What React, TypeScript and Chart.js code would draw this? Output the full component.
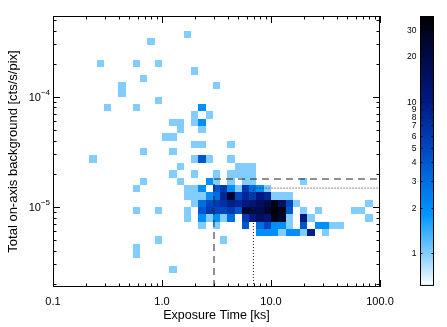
import React, { useEffect, useRef } from 'react';
import { Chart, registerables } from 'chart.js';
Chart.register(...registerables);

const FONT = '"Liberation Sans", Arial, Helvetica, sans-serif';

const X_MIN = 0.1;
const X_MAX = 100;
const Y_MIN = 1.87e-6;
const Y_MAX = 5.42e-4;
const BINS_PER_DECADE = 15;
const X_BIN_ORIGIN = -1; // log10 of first x bin edge (0.1 ks)
const Y_BIN_ORIGIN = -5; // log10 of y bin edge index 0 (1e-5)

const X_TICKS = [0.1, 1, 10, 100];
const X_TICK_LABELS = ['0.1', '1.0', '10.0', '100.0'];
const Y_TICKS = [1e-5, 1e-4];
const Y_TICK_EXP = ['\u22125', '\u22124'];

const CB_MIN = 0.61;
const CB_MAX = 37;
const CB_TICKS = [1, 2, 3, 4, 5, 6, 7, 8, 9, 10, 20, 30];

// Threshold lines
const DASH_X = 3.0;
const DASH_Y = 1.79e-5;
const DOT_X = 6.9;
const DOT_Y = 1.48e-5;

// Histogram cells: x bin index, y bin index, count (one row per y bin)
const rowY = [23, 22, 19, 18, 17, 16, 15, 14, 13, 12, 11, 10, 9, 8, 7, 6, 5, 4, 3, 2, 1, 0, -1, -2, -3, -4, -5, -6, -7, -9];
const rowCells: number[][][] = [
  [[18, 1]],
  [[13, 1]],
  [[6, 1], [11, 1], [14, 1]],
  [[19, 1]],
  [[12, 1]],
  [[9, 1], [22, 1]],
  [[9, 1]],
  [[14, 1]],
  [[7, 1], [11, 1], [20, 2]],
  [[19, 1], [21, 1]],
  [[16, 1], [17, 1], [19, 1], [20, 2]],
  [[17, 1], [20, 1]],
  [[15, 1], [16, 1]],
  [[19, 1], [20, 1], [24, 1]],
  [[12, 1], [16, 1]],
  [[5, 1], [19, 1], [20, 4], [21, 1], [24, 1]],
  [[17, 1], [25, 1], [26, 1], [27, 1]],
  [[16, 1], [19, 1], [22, 1], [24, 1], [25, 1], [26, 1], [27, 1]],
  [[12, 1], [17, 1], [21, 2], [22, 1], [24, 1], [26, 1], [27, 1], [34, 1]],
  [[11, 1], [18, 1], [19, 1], [20, 2], [22, 4], [23, 6], [24, 2], [25, 1], [26, 6], [27, 3], [28, 2], [29, 1]],
  [[18, 1], [19, 1], [20, 1], [21, 2], [22, 3], [23, 8], [24, 25], [25, 5], [26, 8], [27, 6], [28, 10], [29, 8], [30, 1], [31, 1], [32, 1]],
  [[19, 1], [20, 3], [21, 5], [22, 6], [23, 7], [24, 9], [25, 8], [26, 10], [27, 12], [28, 15], [29, 20], [30, 30], [31, 15], [32, 5], [33, 1], [43, 1]],
  [[11, 1], [14, 1], [18, 1], [20, 4], [21, 6], [22, 5], [23, 5], [24, 6], [25, 4], [26, 25], [27, 20], [28, 18], [29, 25], [30, 35], [31, 30], [32, 4], [34, 1], [36, 1], [41, 1], [42, 1]],
  [[18, 1], [20, 2], [21, 1], [22, 2], [23, 1], [24, 3], [26, 6], [27, 10], [28, 15], [29, 12], [30, 30], [31, 25], [32, 1], [34, 10], [35, 1], [43, 1]],
  [[20, 1], [22, 1], [26, 4], [28, 3], [29, 5], [30, 2], [31, 2], [32, 1], [34, 4], [36, 2], [37, 2], [38, 1], [39, 1]],
  [[28, 2], [29, 2], [30, 2], [31, 1], [32, 2], [33, 2], [34, 1], [35, 9], [37, 1]],
  [[14, 1], [23, 1]],
  [[11, 1]],
  [[11, 1]],
  [[16, 1]],
];

// colour map stops: count -> rgb
const CMAP_N = [0.61, 1.0, 1.8, 3, 5, 10, 20, 37];
const CMAP_C = [
  [255, 255, 255],
  [130, 205, 255],
  [0, 150, 255],
  [0, 110, 225],
  [0, 70, 190],
  [0, 25, 130],
  [0, 10, 70],
  [0, 0, 0],
];

function cmap(v: number): string {
  const lv = Math.log(Math.max(CMAP_N[0], Math.min(CMAP_N[CMAP_N.length - 1], v)));
  for (let i = 0; i < CMAP_N.length - 1; i++) {
    const a = Math.log(CMAP_N[i]);
    const b = Math.log(CMAP_N[i + 1]);
    if (lv <= b) {
      const t = (lv - a) / (b - a);
      const c = CMAP_C[i].map((c0, k) => Math.round(c0 + (CMAP_C[i + 1][k] - c0) * t));
      return `rgb(${c[0]},${c[1]},${c[2]})`;
    }
  }
  const c = CMAP_C[CMAP_C.length - 1];
  return `rgb(${c[0]},${c[1]},${c[2]})`;
}

const binEdge = (origin: number, i: number) => Math.pow(10, origin + i / BINS_PER_DECADE);

const heatmapPlugin = {
  id: 'heatmap',
  beforeDatasetsDraw(chart: any) {
    const { ctx, chartArea } = chart;
    const xs = chart.scales.x;
    const ys = chart.scales.y;
    const pts = chart.data.datasets[0].data as any[];
    ctx.save();
    ctx.beginPath();
    ctx.rect(chartArea.left, chartArea.top, chartArea.right - chartArea.left, chartArea.bottom - chartArea.top);
    ctx.clip();
    for (const p of pts) {
      const x0 = Math.round(xs.getPixelForValue(binEdge(X_BIN_ORIGIN, p.ix)));
      const x1 = Math.round(xs.getPixelForValue(binEdge(X_BIN_ORIGIN, p.ix + 1)));
      const y0 = Math.round(ys.getPixelForValue(binEdge(Y_BIN_ORIGIN, p.iy + 1)));
      const y1 = Math.round(ys.getPixelForValue(binEdge(Y_BIN_ORIGIN, p.iy)));
      ctx.fillStyle = cmap(p.n);
      ctx.fillRect(x0, y0, x1 - x0, y1 - y0);
    }
    ctx.restore();
  },
};

const framePlugin = {
  id: 'frame',
  afterDraw(chart: any) {
    const { ctx, chartArea } = chart;
    const { left, right, top, bottom } = chartArea;
    const xs = chart.scales.x;
    const ys = chart.scales.y;
    const cb = chart.scales.cb;
    ctx.save();
    ctx.strokeStyle = '#000';
    ctx.lineWidth = 1;
    ctx.strokeRect(left + 0.5, top + 0.5, right - left - 1, bottom - top - 1);
    const MAJ = 7;
    const MIN = 3.5;
    ctx.beginPath();
    for (let e = -1; e <= 2; e++) {
      for (let k = 1; k <= 9; k++) {
        const v = k * Math.pow(10, e);
        if (v < X_MIN * 0.999 || v > X_MAX * 1.001) continue;
        const px = Math.round(xs.getPixelForValue(v)) + 0.5;
        const L = k === 1 ? MAJ : MIN;
        ctx.moveTo(px, bottom);
        ctx.lineTo(px, bottom - L);
        ctx.moveTo(px, top);
        ctx.lineTo(px, top + L);
      }
    }
    for (let e = -6; e <= -3; e++) {
      for (let k = 1; k <= 9; k++) {
        const v = k * Math.pow(10, e);
        if (v < Y_MIN || v > Y_MAX) continue;
        const py = Math.round(ys.getPixelForValue(v)) + 0.5;
        const L = k === 1 ? MAJ : MIN;
        ctx.moveTo(left, py);
        ctx.lineTo(left + L, py);
        ctx.moveTo(right, py);
        ctx.lineTo(right - L, py);
      }
    }
    ctx.stroke();

    // y tick labels with superscript exponent
    ctx.fillStyle = '#000';
    ctx.textBaseline = 'alphabetic';
    Y_TICKS.forEach((v, i) => {
      const py = ys.getPixelForValue(v);
      ctx.font = `8px ${FONT}`;
      const ew = ctx.measureText(Y_TICK_EXP[i]).width;
      ctx.textAlign = 'right';
      ctx.fillText(Y_TICK_EXP[i], 50, py - 1.5);
      ctx.font = `11px ${FONT}`;
      ctx.fillText('10', 50 - ew, py + 4);
    });

    // colour bar
    const cbL = 420;
    const cbR = 434;
    const cTop = cb.getPixelForValue(CB_MAX);
    const cBot = cb.getPixelForValue(CB_MIN);
    const grad = ctx.createLinearGradient(0, cBot, 0, cTop);
    const N = 80;
    for (let i = 0; i <= N; i++) {
      const v = CB_MIN * Math.pow(CB_MAX / CB_MIN, i / N);
      const py = cb.getPixelForValue(v);
      grad.addColorStop(Math.min(1, Math.max(0, (cBot - py) / (cBot - cTop))), cmap(v));
    }
    ctx.fillStyle = grad;
    ctx.fillRect(cbL, cTop, cbR - cbL, cBot - cTop);
    ctx.strokeRect(cbL + 0.5, cTop + 0.5, cbR - cbL - 1, cBot - cTop - 1);
    ctx.beginPath();
    ctx.font = `8.5px ${FONT}`;
    ctx.textAlign = 'right';
    ctx.textBaseline = 'middle';
    ctx.fillStyle = '#000';
    CB_TICKS.forEach((v) => {
      const py = Math.round(cb.getPixelForValue(v)) + 0.5;
      ctx.moveTo(cbL, py);
      ctx.lineTo(cbL + 2.5, py);
      ctx.moveTo(cbR, py);
      ctx.lineTo(cbR - 2.5, py);
      ctx.fillText(String(v), 416.5, py);
    });
    ctx.stroke();
    ctx.restore();
  },
};

export default function App() {
  const ref = useRef<HTMLCanvasElement | null>(null);
  useEffect(() => {
    if (!ref.current) return;
    const cells: any[] = [];
    rowY.forEach((iy, r) => {
      rowCells[r].forEach(([ix, n]) => {
        cells.push({
          x: Math.pow(10, X_BIN_ORIGIN + (ix + 0.5) / BINS_PER_DECADE),
          y: Math.pow(10, Y_BIN_ORIGIN + (iy + 0.5) / BINS_PER_DECADE),
          ix,
          iy,
          n,
        });
      });
    });
    const chart = new Chart(ref.current, {
      type: 'scatter',
      data: {
        datasets: [
          { type: 'scatter', data: cells, pointRadius: 0, pointHoverRadius: 0 } as any,
          {
            type: 'line',
            data: [
              { x: DASH_X, y: Y_MIN },
              { x: DASH_X, y: DASH_Y },
              { x: X_MAX, y: DASH_Y },
            ],
            borderColor: '#222',
            borderWidth: 1,
            borderDash: [7, 5],
            pointRadius: 0,
            fill: false,
            tension: 0,
          } as any,
          {
            type: 'line',
            data: [
              { x: DOT_X, y: Y_MIN },
              { x: DOT_X, y: DOT_Y },
              { x: X_MAX, y: DOT_Y },
            ],
            borderColor: '#222',
            borderWidth: 1,
            borderDash: [1, 2],
            pointRadius: 0,
            fill: false,
            tension: 0,
          } as any,
        ],
      },
      options: {
        animation: false,
        responsive: false,
        devicePixelRatio: 1,
        layout: { padding: { top: 16, right: 67, left: 0, bottom: 0 } },
        plugins: { legend: { display: false }, tooltip: { enabled: false } },
        events: [],
        scales: {
          x: {
            type: 'logarithmic',
            min: X_MIN,
            max: X_MAX,
            position: 'bottom',
            grid: { display: false, drawTicks: false },
            border: { display: false },
            afterBuildTicks: (s: any) => {
              s.ticks = X_TICKS.map((v) => ({ value: v }));
            },
            afterFit: (s: any) => {
              s.height = 40;
            },
            ticks: {
              autoSkip: false,
              maxRotation: 0,
              padding: 8,
              color: '#000',
              font: { family: FONT, size: 11 },
              callback: (v: any) => {
                const i = X_TICKS.findIndex((t) => Math.abs(t - v) / t < 1e-6);
                return i >= 0 ? X_TICK_LABELS[i] : '';
              },
            },
            title: {
              display: true,
              text: 'Exposure Time [ks]',
              color: '#000',
              font: { family: FONT, size: 12.5 },
              padding: { top: 0, bottom: 4 },
            },
          },
          y: {
            type: 'logarithmic',
            min: Y_MIN,
            max: Y_MAX,
            position: 'left',
            grid: { display: false, drawTicks: false },
            border: { display: false },
            afterBuildTicks: (s: any) => {
              s.ticks = Y_TICKS.map((v) => ({ value: v }));
            },
            afterFit: (s: any) => {
              s.width = 53;
            },
            ticks: { display: false },
            title: {
              display: true,
              text: 'Total on-axis background [cts/s/pix]',
              color: '#000',
              font: { family: FONT, size: 13 },
              padding: { top: 6, bottom: 0 },
            },
          },
          cb: {
            type: 'logarithmic',
            display: false,
            position: 'right',
            min: CB_MIN,
            max: CB_MAX,
          },
        },
      } as any,
      plugins: [heatmapPlugin, framePlugin],
    });
    return () => chart.destroy();
  }, []);
  return (
    <div style={{ position: 'fixed', left: 0, top: 0, width: 447, height: 327, background: '#fff' }}>
      <canvas ref={ref} width={447} height={327} />
    </div>
  );
}
